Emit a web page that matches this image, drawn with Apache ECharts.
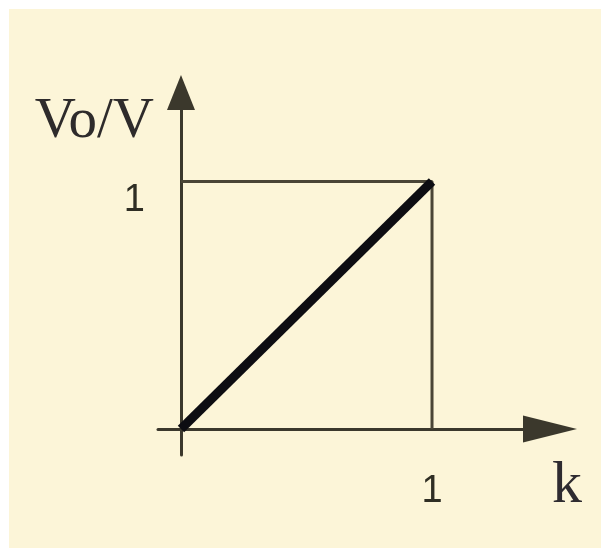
<!DOCTYPE html>
<html>
<head>
<meta charset="utf-8">
<script src="https://cdn.jsdelivr.net/npm/echarts@6/dist/echarts.min.js"></script>
<style>
  html, body { margin: 0; padding: 0; background: #ffffff; }
  #chart { position: absolute; left: 9px; top: 9px; width: 592px; height: 539px; }
</style>
</head>
<body>
<div id="chart"></div>
<script>
// Transfer characteristic: output ratio Vo/V against k
const ratioK = [0, 1];
const ratioV = [0, 1];
// Reference box at the full-scale point
const boxK = [0, 1, 1];
const boxV = [1, 1, 0];
// Tick labels
const kTicks = [1];
const vTicks = [1];
const xName = 'k';
const yName = 'Vo/V';

const ink = '#3b382c';
const chart = echarts.init(document.getElementById('chart'), null, { renderer: 'canvas' });

chart.setOption({
  backgroundColor: '#fcf5d8',
  animation: false,
  grid: {
    left: 149, top: 83.5, width: 392, height: 362.5,
    containLabel: false, outerBoundsMode: 'none'
  },
  xAxis: {
    type: 'value',
    min: -0.0916,
    max: 1.47,
    name: xName,
    nameLocation: 'end',
    nameGap: 17,
    nameMoveOverlap: false,
    nameTextStyle: {
      fontFamily: 'Liberation Serif', fontSize: 60, color: '#2e2b30',
      align: 'center', verticalAlign: 'top', lineHeight: 114
    },
    axisLine: {
      onZero: true,
      symbol: ['none', 'triangle'],
      symbolSize: [27, 54],
      lineStyle: { color: ink, width: 3 }
    },
    axisTick: { show: false },
    splitLine: { show: false },
    axisLabel: {
      customValues: kTicks,
      formatter: v => String(v),
      margin: 18,
      fontFamily: 'Liberation Sans', fontSize: 38, color: '#2f2e24'
    }
  },
  yAxis: {
    type: 'value',
    min: -0.105,
    max: 1.36,
    name: yName,
    nameLocation: 'end',
    nameGap: -30,
    nameMoveOverlap: false,
    nameTextStyle: {
      fontFamily: 'Liberation Serif', fontSize: 57, color: '#2e2b2b',
      align: 'right', verticalAlign: 'middle', padding: [0, 27, 0, 0]
    },
    axisLine: {
      onZero: true,
      symbol: ['none', 'triangle'],
      symbolSize: [28, 35],
      lineStyle: { color: ink, width: 3 }
    },
    axisTick: { show: false },
    splitLine: { show: false },
    axisLabel: {
      customValues: vTicks,
      formatter: v => String(v),
      margin: 13,
      verticalAlign: 'top',
      fontFamily: 'Liberation Sans', fontSize: 38, color: '#2f2e24'
    }
  },
  series: [
    {
      name: 'box',
      type: 'line',
      data: boxK.map((k, i) => [k, boxV[i]]),
      symbol: 'none',
      silent: true,
      lineStyle: { color: '#4a4536', width: 3 },
      z: 2
    },
    {
      name: 'Vo/V',
      type: 'line',
      data: ratioK.map((k, i) => [k, ratioV[i]]),
      symbol: 'none',
      silent: true,
      lineStyle: { color: '#0d0d12', width: 9, cap: 'butt' },
      z: 3
    }
  ]
});
</script>
</body>
</html>
